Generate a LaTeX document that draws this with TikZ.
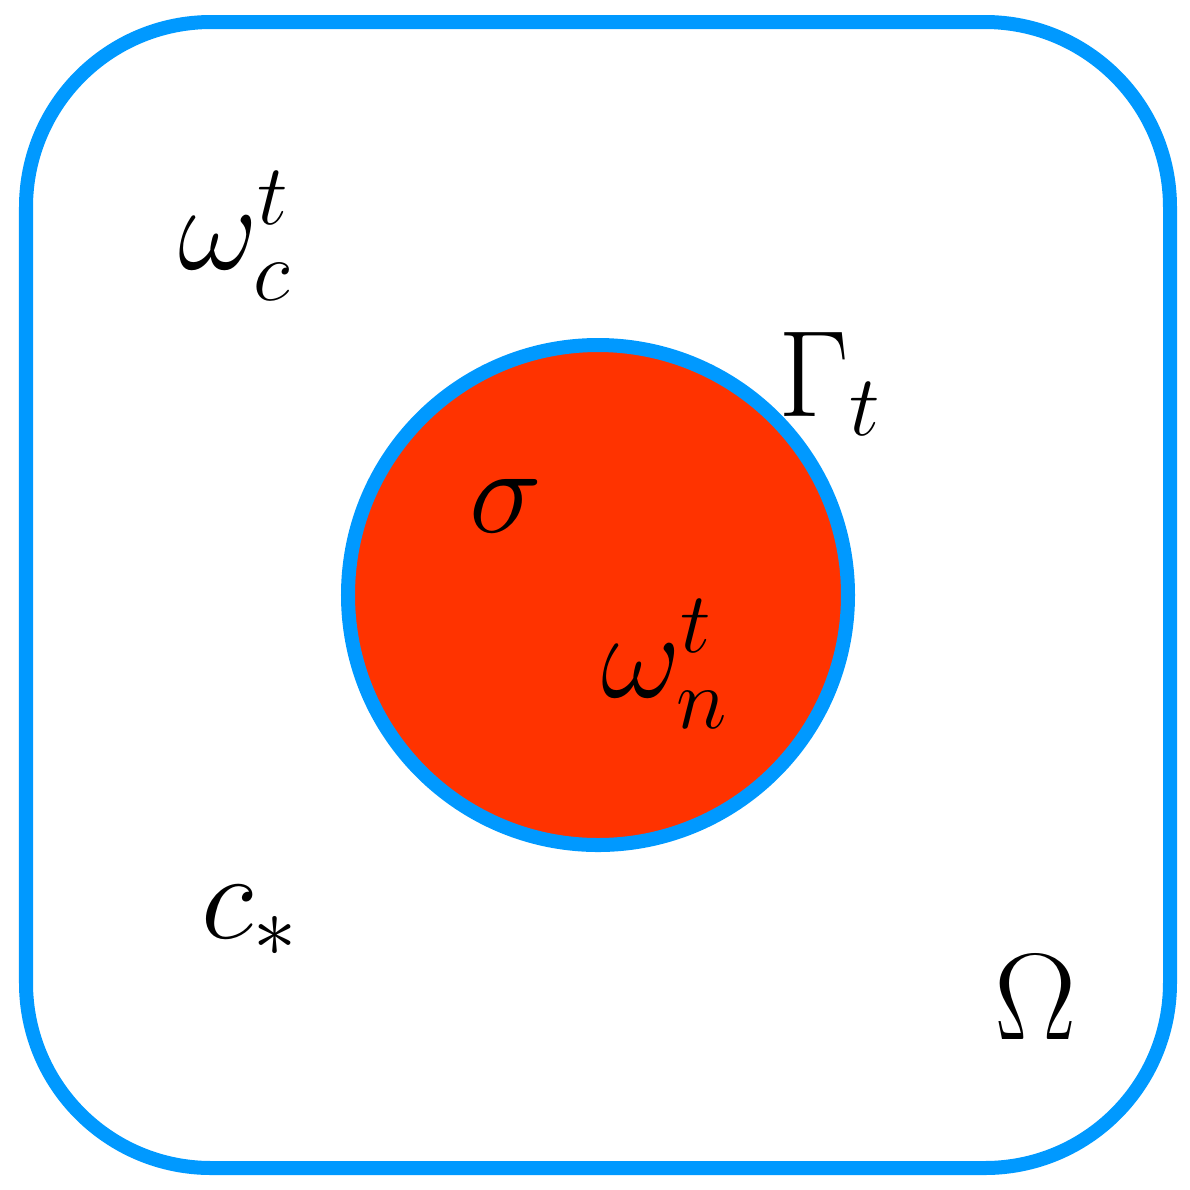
\RequirePackage{fix-cm}
\documentclass[tikz,border=0pt]{standalone}
\definecolor{bordercol}{RGB}{0,153,255}
\definecolor{regioncol}{RGB}{255,51,0}
\tikzset{
    boundary/.style={line width=0.14cm, draw=bordercol},
    label/.style={inner sep=0pt, font=\fontsize{35}{42}\selectfont}
}
\begin{document}
\begin{tikzpicture}[x=0.01cm, y=-0.01cm]
    \useasboundingbox (0,0) rectangle (1190,1190);

    % Outer domain
    \draw[boundary, rounded corners=1.85cm] (26,22) rectangle (1170,1168);

    % Inner region with its interface
    \fill[regioncol] (598,595) circle (250);
    \draw[boundary] (598,595) circle (250);

    % Labels
    \node[label] (omegac) at (235,236) {$\omega_c^t$};
    \node[label] (gammat) at (830,384) {$\Gamma_t$};
    \node[label] (sigma) at (506,506) {$\sigma$};
    \node[label] (omegan) at (665,664) {$\omega_n^t$};
    \node[label] (cstar) at (250,921) {$c_*$};
    \node[label] (bigomega) at (1036,997) {$\Omega$};

\end{tikzpicture}
\end{document}
